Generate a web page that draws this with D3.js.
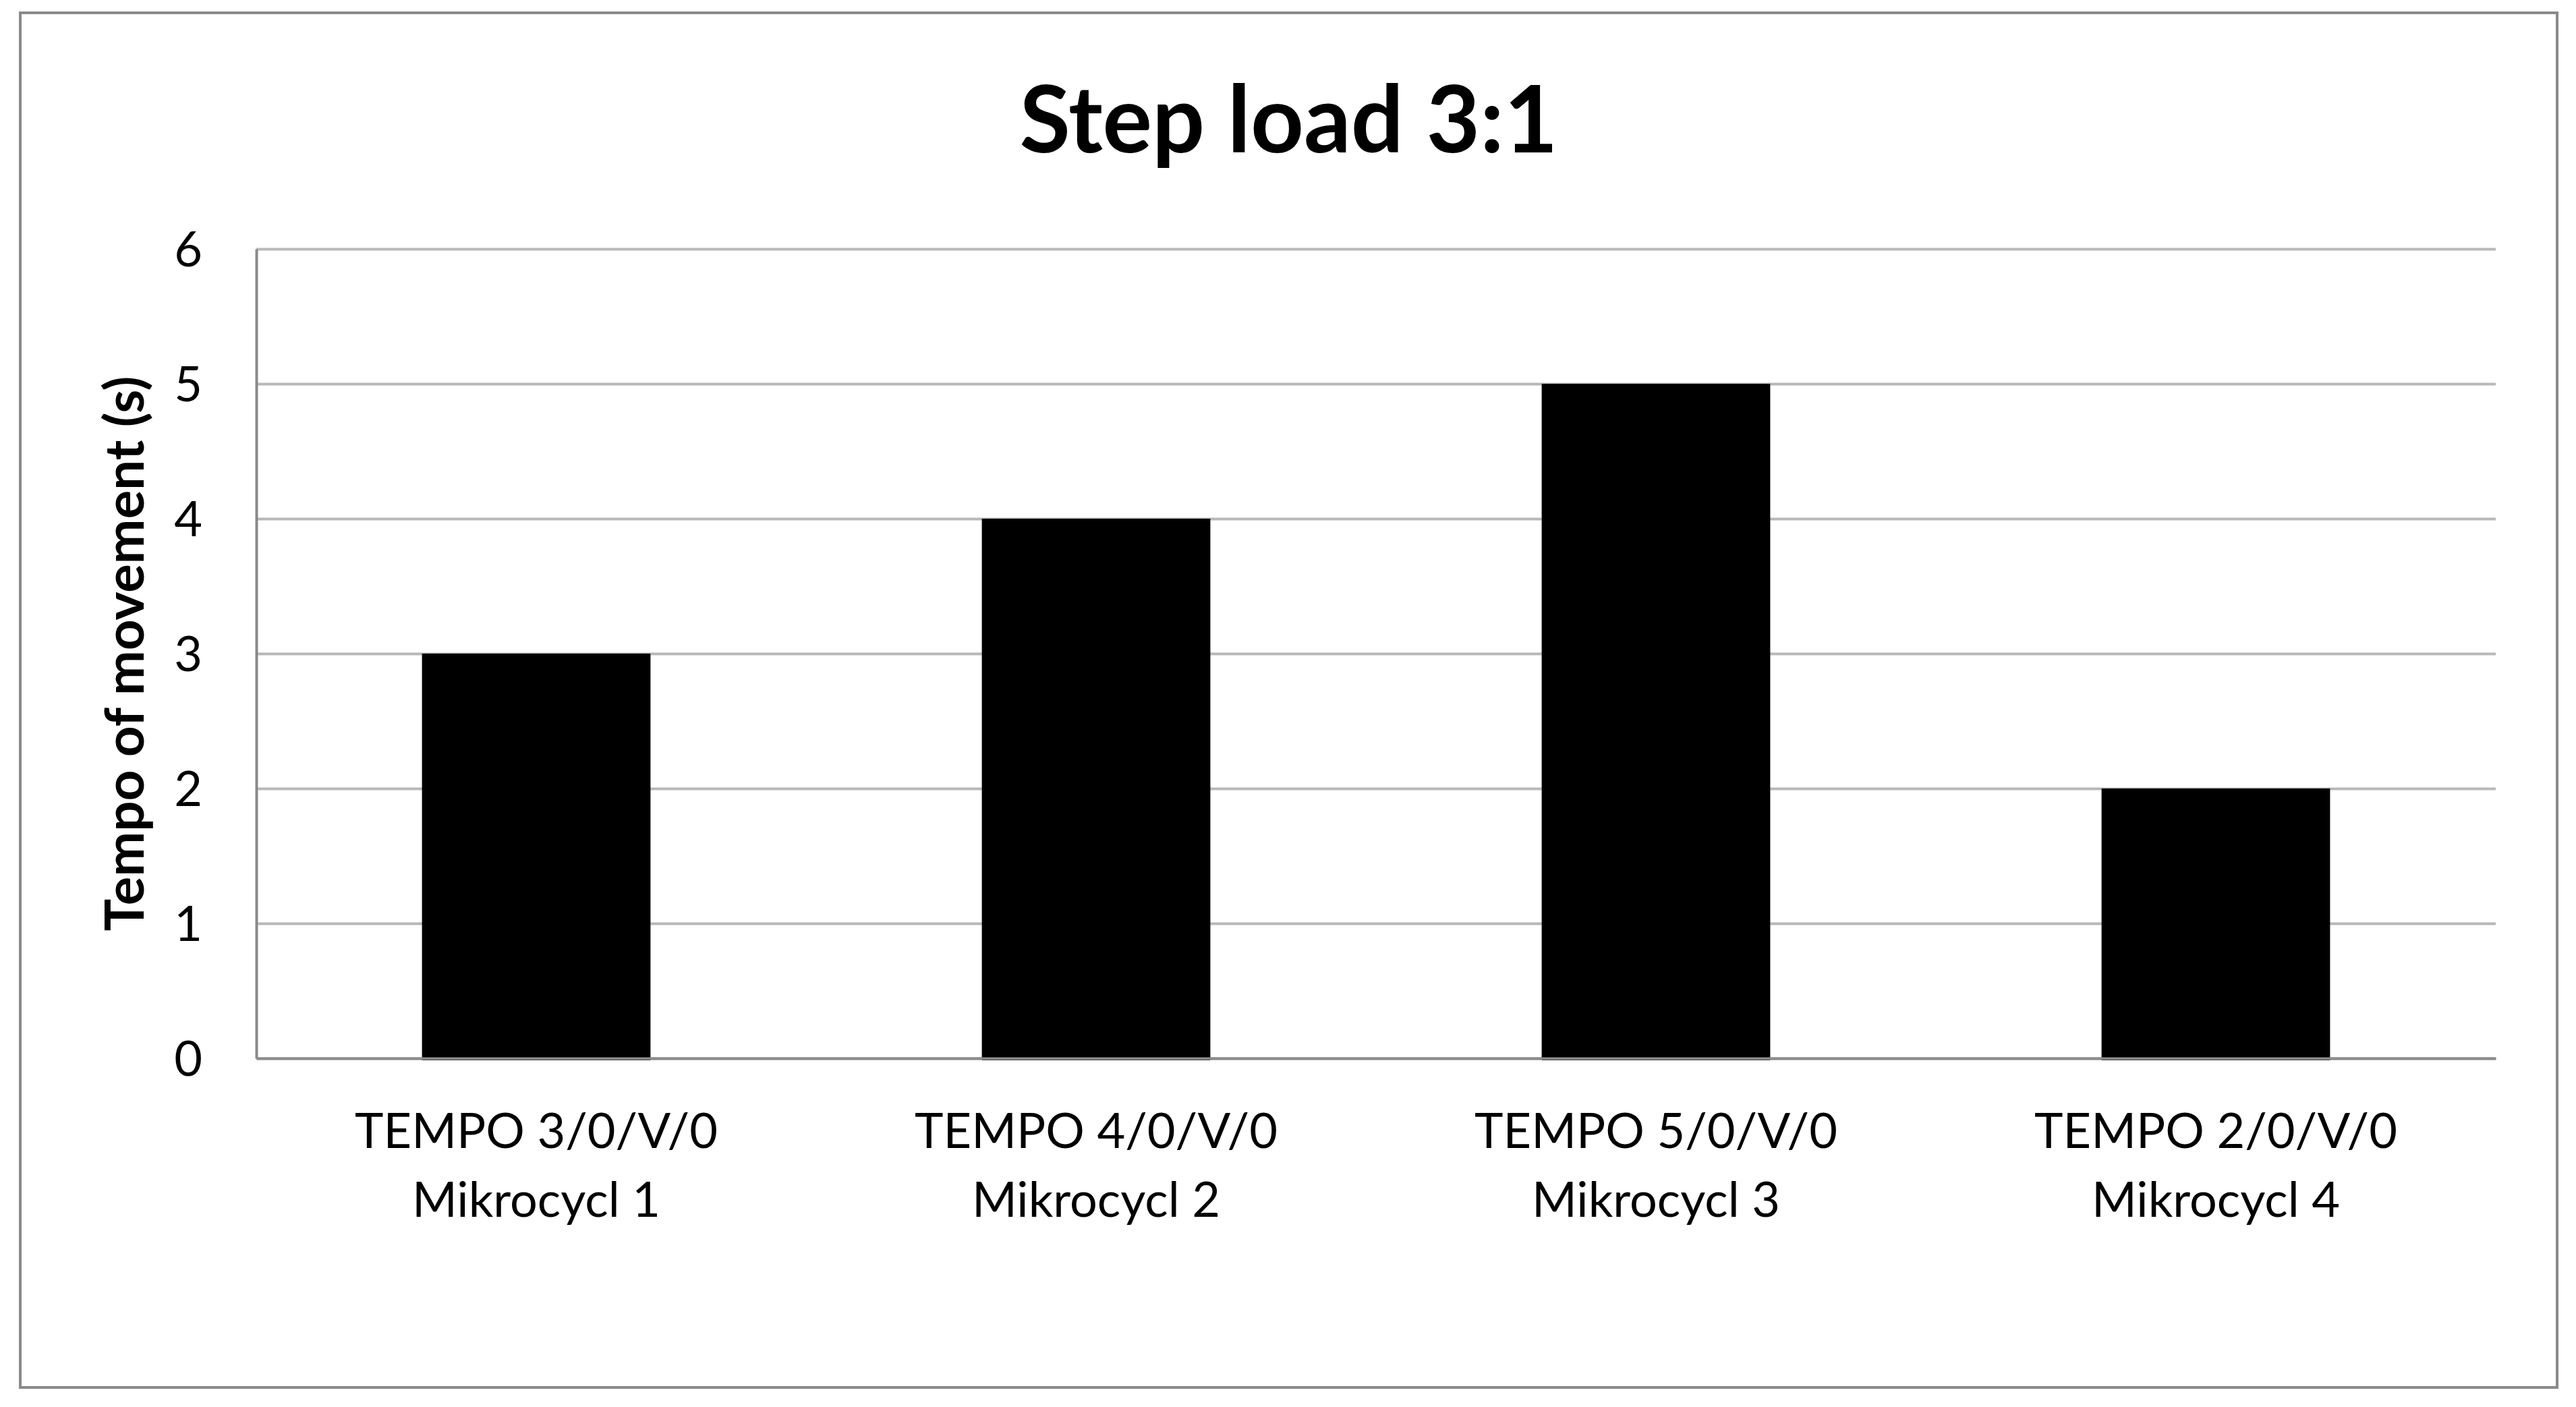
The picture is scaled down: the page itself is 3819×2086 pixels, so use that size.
<!DOCTYPE html>
<html>
<head>
<meta charset="utf-8">
<script src="https://cdn.jsdelivr.net/npm/d3@7"></script>
<style>
  html, body { margin: 0; padding: 0; background: #ffffff; }
  svg { display: block; }
</style>
</head>
<body>
<svg id="chart" width="3819" height="2086"></svg>
<script>
// ---- data ----
const title = "Step load 3:1";
const yAxisTitle = "Tempo of movement (s)";
const categoriesLine1 = ["TEMPO 3/0/V/0", "TEMPO 4/0/V/0", "TEMPO 5/0/V/0", "TEMPO 2/0/V/0"];
const categoriesLine2 = ["Mikrocycl 1", "Mikrocycl 2", "Mikrocycl 3", "Mikrocycl 4"];
const values = [3, 4, 5, 2];
const yTicks = [0, 1, 2, 3, 4, 5, 6];

// ---- layout ----
const W = 3819, H = 2086;
const plot = { left: 380, right: 3700, top: 369, bottom: 1569 };
const font = "Lato, 'Liberation Sans', sans-serif";
const svg = d3.select("#chart");

svg.append("rect").attr("x", 0).attr("y", 0).attr("width", W).attr("height", H).attr("fill", "#ffffff");
// outer chart border
svg.append("rect")
  .attr("x", 30).attr("y", 19).attr("width", 3791 - 30).attr("height", 2057 - 19)
  .attr("fill", "#ffffff").attr("stroke", "#8a8a8a").attr("stroke-width", 4);

const keys = categoriesLine1.map((d, i) => i);
const gap = 1.45 / 2.45;
const x = d3.scaleBand().domain(keys).range([plot.left, plot.right])
  .paddingInner(gap).paddingOuter(gap / 2);
const xSlot = d3.scaleBand().domain(keys).range([plot.left, plot.right]).padding(0);
const y = d3.scaleLinear().domain([0, 6]).range([plot.bottom, plot.top]);

// gridlines
const grid = svg.append("g").attr("transform", `translate(${plot.left},0)`)
  .call(d3.axisLeft(y).tickValues(yTicks).tickSize(-(plot.right - plot.left)).tickFormat(""));
grid.select(".domain").remove();
grid.selectAll(".tick line").attr("stroke", "#b8b8b8").attr("stroke-width", 4);

// bars
svg.append("g").selectAll("rect").data(values).join("rect")
  .attr("x", (d, i) => x(i))
  .attr("width", x.bandwidth())
  .attr("y", d => y(d))
  .attr("height", d => y(0) - y(d) + 3)
  .attr("fill", "#000000");

// measure helper
function measure(txt, size, weight) {
  const t = svg.append("text").attr("font-family", font).attr("font-size", size)
    .attr("font-weight", weight).text(txt);
  const w = t.node().getComputedTextLength();
  t.remove();
  return w;
}
const labelSize = 100 * 538 / measure(categoriesLine1[0], 100, 400);

// y axis (ticks + line)
const yAxis = svg.append("g").attr("transform", `translate(${plot.left},0)`)
  .call(d3.axisLeft(y).tickValues(yTicks).tickSize(0).tickPadding(80).tickSizeOuter(0).tickFormat(d3.format("d")));
yAxis.select(".domain").attr("stroke", "#8a8a8a").attr("stroke-width", 4);
yAxis.selectAll(".tick text")
  .attr("font-family", font).attr("font-size", labelSize).attr("fill", "#000000")
  .attr("dy", "0.36em");

// x axis line
const xAxis = svg.append("g").attr("transform", `translate(0,${plot.bottom})`)
  .call(d3.axisBottom(xSlot).tickSize(0).tickSizeOuter(0).tickFormat(""));
xAxis.select(".domain").attr("stroke", "#8a8a8a").attr("stroke-width", 4);
xAxis.selectAll(".tick text").remove();

// category labels (two lines)
const cat = svg.append("g").selectAll("text").data(keys).join("text")
  .attr("font-family", font).attr("font-size", labelSize).attr("fill", "#000000")
  .attr("text-anchor", "middle");
cat.append("tspan").attr("x", i => xSlot(i) + xSlot.bandwidth() / 2).attr("y", 1702)
  .text(i => categoriesLine1[i]);
cat.append("tspan").attr("x", i => xSlot(i) + xSlot.bandwidth() / 2).attr("y", 1804)
  .text(i => categoriesLine2[i]);

// title
const titleSize = 100 * 798 / measure(title, 100, 700);
svg.append("text")
  .attr("x", (30 + 3791) / 2).attr("y", 226)
  .attr("text-anchor", "middle")
  .attr("font-family", font).attr("font-weight", 700).attr("font-size", titleSize)
  .attr("fill", "#000000")
  .text(title);

// y axis title
const ytSize = 100 * 823 / measure(yAxisTitle, 100, 700);
svg.append("text")
  .attr("transform", `translate(213,${(plot.top + plot.bottom) / 2}) rotate(-90)`)
  .attr("text-anchor", "middle")
  .attr("font-family", font).attr("font-weight", 700).attr("font-size", ytSize)
  .attr("fill", "#000000")
  .text(yAxisTitle);
</script>
</body>
</html>
